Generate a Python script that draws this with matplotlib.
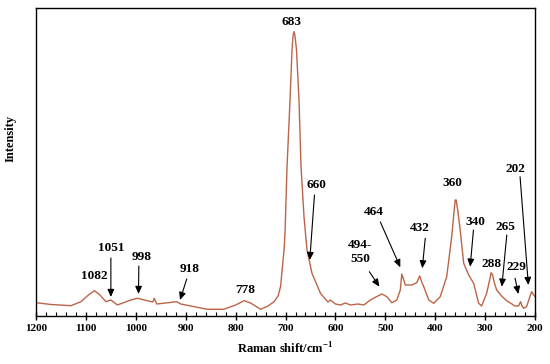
import matplotlib
matplotlib.use("Agg")
import matplotlib.pyplot as plt
import numpy as np

plt.rcParams['font.family'] = ['Liberation Serif', 'DejaVu Serif']
plt.rcParams['font.weight'] = 'bold'
plt.rcParams['mathtext.fontset'] = 'custom'
plt.rcParams['mathtext.rm'] = 'Liberation Serif:bold'
plt.rcParams['mathtext.bf'] = 'Liberation Serif:bold'

# Raman shift (cm-1) and intensity (a.u.)
shift = [1200, 1170, 1130, 1110, 1095, 1083, 1072, 1060, 1050, 1037, 1010, 997, 977,
         966, 963, 958, 940, 918, 910, 880, 857, 824, 800, 783, 770, 750, 735, 723,
         715, 710, 703, 701, 697, 691, 687, 685, 683, 681, 678, 673, 669, 663, 657,
         647, 630, 615, 610, 600, 590, 580, 570, 555, 543, 530, 515, 507, 497, 487,
         477, 470, 467, 463, 460, 447, 437, 431, 427, 423, 413, 403, 390, 377, 367,
         362, 360, 358, 355, 350, 343, 333, 323, 313, 307, 297, 291, 288, 285, 282,
         277, 267, 257, 240, 233, 229, 226, 223, 217, 207, 200]
intensity = [13.3, 11.5, 10.3, 14.3, 21, 25.3, 21, 14.3, 16, 11, 16, 17.7, 15.3,
             14, 17.7, 12, 13, 14.3, 12, 9, 6.7, 6.7, 11, 15.3, 13, 6.7, 10, 14.3,
             20, 29.3, 66, 83, 149.3, 216, 266, 280, 284.3, 280, 266, 216, 149.3, 99.3, 66,
             42.7, 22.7, 14, 16, 12, 11, 13, 11, 12, 11, 16, 20, 22, 19.3, 13.3,
             16, 26, 42, 36, 31, 31, 33.3, 40, 34, 29.3, 16, 12.7, 19.3, 39.3, 79.3,
             106, 116, 116, 106, 86, 52.7, 41, 32.7, 12.7, 10, 22.7, 36, 43.3, 41, 34,
             26, 20, 15.3, 10, 10, 14.3, 10, 7.7, 9.3, 24.3, 19.3]

# peak labels: text, label position, arrow tail, arrow tip (None = no arrow)
labels = ["683", "1082", "1051", "998", "918", "778", "660", "494-\n550", "464",
          "432", "360", "340", "288", "265", "229", "202"]
label_pos = [(688, 294), (1083, 40), (1050, 67.7), (988, 58.7), (893, 46.7),
             (780, 26), (638.6, 131.3), (550, 63.7), (523.4, 104), (430, 87.7),
             (366.6, 132.7), (320, 94.3), (288, 52), (260, 88.7), (236.6, 48.7),
             (240, 146.7)]
arrow_tail = [None, None, (1050, 58), (994, 50), (898, 37), None, (642, 121),
              (532, 44.3), (510, 94), (420, 77.7), None, (323.4, 86), None,
              (256.6, 81), (240, 37.7), (230, 139.3)]
arrow_tip = [None, None, (1050, 19), (994.6, 22), (911.4, 16), None, (651.4, 56),
             (512, 29.3), (470, 48.7), (426, 47.7), None, (330, 49.3), None,
             (266.6, 29.3), (233.4, 22), (213.4, 31)]

fig = plt.figure(figsize=(5.5, 3.64), dpi=100)
ax = fig.add_axes([0.0655, 0.1319, 0.9073, 0.8461])
ax.plot(shift, intensity, color='#BC6448', lw=1.0)

for t, p, a, b in zip(labels, label_pos, arrow_tail, arrow_tip):
    ax.text(p[0], p[1], t, ha='center', va='center', fontsize=9.5,
            fontweight='bold', linespacing=1.2)
    if a is not None:
        ax.annotate('', xy=b, xytext=a,
                    arrowprops=dict(arrowstyle='-|>,head_length=0.45,head_width=0.2',
                                    color='black', lw=0.8, shrinkA=0, shrinkB=0))

ax.set_xlim(1200, 200)
ax.set_ylim(0, 308)
ax.set_xticks(np.arange(1200, 199, -100))
ax.set_xticks(np.arange(1200, 199, -20), minor=True)
ax.set_yticks([])
ax.tick_params(axis='x', which='major', direction='inout', length=6, width=1,
               labelsize=8, pad=3)
ax.tick_params(axis='x', which='minor', direction='in', length=3, width=0.8)
for lab in ax.get_xticklabels():
    lab.set_fontweight('bold')
for s in ax.spines.values():
    s.set_linewidth(1.0)
ax.set_xlabel(r'Raman shift/cm$^{-1}$', fontsize=9, fontweight='bold', labelpad=6)
ax.set_ylabel('Intensity', fontsize=9, fontweight='bold')
ax.yaxis.set_label_coords(-0.040, 0.578)

fig.savefig('out.png', dpi=100)
